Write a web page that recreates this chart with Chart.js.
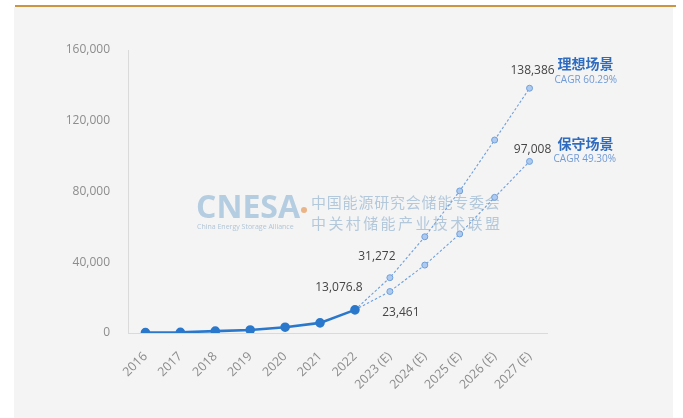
<!DOCTYPE html>
<html>
<head>
<meta charset="utf-8">
<script src="https://cdn.jsdelivr.net/npm/chart.js@4.4.1/dist/chart.umd.min.js"></script>
<style>
    html, body { margin: 0; padding: 0; background: #ffffff; }
    #wrap { position: relative; width: 683px; height: 418px; overflow: hidden; }
    #panel { position: absolute; left: 14px; top: 7px; width: 659px; height: 411px; background: #f4f4f4; }
    #topLine { position: absolute; left: 15px; top: 5px; width: 661px; height: 2px; background: #cc9540; }
    #chart { position: absolute; left: 0; top: 0; }
</style>
</head>
<body>
<div id="wrap">
    <div id="panel"></div>
    <div id="topLine"></div>
    <canvas id="chart" width="683" height="418"></canvas>
</div>
<script>
const years = ['2016', '2017', '2018', '2019', '2020', '2021', '2022',
    '2023 (E)', '2024 (E)', '2025 (E)', '2026 (E)', '2027 (E)'];
const actualValues = [243, 390, 1070, 1710, 3270, 5730, 13076.8, null, null, null, null, null];
const idealValues = [null, null, null, null, null, null, 13076.8, 31272, 54400, 80300, 109100, 138386];
const conservativeValues = [null, null, null, null, null, null, 13076.8, 23461, 38400, 56000, 76700, 97008];
const yTicks = [0, 40000, 80000, 120000, 160000];

const idealName = '理想场景';
const idealCagr = 'CAGR 60.29%';
const conservativeName = '保守场景';
const conservativeCagr = 'CAGR 49.30%';

const numFmt = (v) => v.toLocaleString('en-US', { maximumFractionDigits: 1 });
const narrow = '"Liberation Sans Narrow", "Open Sans", sans-serif';

// value labels and scenario names drawn next to points
const labelPlugin = {
    id: 'labelPlugin',
    afterDatasetsDraw(chart) {
        const c = chart.ctx;
        const x = chart.scales.x;
        const y = chart.scales.y;
        c.save();
        c.fillStyle = '#444444';
        c.font = '12px ' + narrow;
        c.textAlign = 'center';
        c.textBaseline = 'middle';

        const i22 = 6;
        c.fillText(numFmt(actualValues[i22]), x.getPixelForValue(i22) - 16, y.getPixelForValue(actualValues[i22]) - 22);
        c.fillText(numFmt(idealValues[7]), x.getPixelForValue(7) - 13, y.getPixelForValue(idealValues[7]) - 21);
        c.fillText(numFmt(conservativeValues[7]), x.getPixelForValue(7) + 11, y.getPixelForValue(conservativeValues[7]) + 21);

        const last = years.length - 1;
        const lx = x.getPixelForValue(last);
        const iy = y.getPixelForValue(idealValues[last]);
        const cy = y.getPixelForValue(conservativeValues[last]);
        c.fillText(numFmt(idealValues[last]), lx + 3, iy - 18);
        c.fillText(numFmt(conservativeValues[last]), lx + 3, cy - 12);

        c.textAlign = 'left';
        c.fillStyle = '#2f6cbf';
        c.font = 'bold 14px "Noto Sans CJK SC", sans-serif';
        c.fillText(idealName, lx + 28, iy - 25);
        c.fillText(conservativeName, lx + 28, cy - 18);
        c.fillStyle = '#6f9ad6';
        c.font = '10px ' + narrow;
        c.fillText(idealCagr, lx + 25, iy - 8);
        c.fillText(conservativeCagr, lx + 24, cy - 2);
        c.restore();
    }
};

// faint CNESA watermark behind the lines
const watermarkPlugin = {
    id: 'watermarkPlugin',
    beforeDatasetsDraw(chart) {
        const c = chart.ctx;
        c.save();
        c.globalAlpha = 0.8;
        c.fillStyle = '#a4c3dc';
        c.font = 'bold 32px "Open Sans", sans-serif';
        c.textBaseline = 'alphabetic';
        c.textAlign = 'left';
        c.fillText('CNESA', 196, 218);
        c.font = '7px "Open Sans", sans-serif';
        c.fillStyle = '#9fb9cf';
        c.fillText('China Energy Storage Alliance', 197, 229);
        c.fillStyle = '#e7a46a';
        c.beginPath();
        c.arc(304, 210, 3, 0, Math.PI * 2);
        c.fill();
        c.fillStyle = '#a3bdd4';
        c.font = '15px "Noto Sans CJK SC", sans-serif';
        const line1 = '中国能源研究会储能专委会';
        const line2 = '中关村储能产业技术联盟';
        for (let i = 0; i < line1.length; i++) c.fillText(line1[i], 311 + i * 15.8, 208);
        for (let i = 0; i < line2.length; i++) c.fillText(line2[i], 311 + i * 17.4, 229);
        c.restore();
    }
};

new Chart(document.getElementById('chart').getContext('2d'), {
    type: 'line',
    data: {
        labels: years,
        datasets: [
            {
                label: 'actual',
                data: actualValues,
                borderColor: '#2a78cc',
                borderWidth: 2.6,
                pointRadius: 3.5,
                pointBackgroundColor: '#2a78cc',
                pointBorderColor: '#2a78cc',
                fill: false
            },
            {
                label: idealName,
                data: idealValues,
                borderColor: '#6f9fdb',
                borderWidth: 1.1,
                borderDash: [2.5, 2],
                pointRadius: 3,
                pointBackgroundColor: '#aecbef',
                pointBorderColor: '#6f9fdb',
                pointBorderWidth: 1,
                fill: false
            },
            {
                label: conservativeName,
                data: conservativeValues,
                borderColor: '#6f9fdb',
                borderWidth: 1.1,
                borderDash: [2.5, 2],
                pointRadius: 3,
                pointBackgroundColor: '#aecbef',
                pointBorderColor: '#6f9fdb',
                pointBorderWidth: 1,
                fill: false
            }
        ]
    },
    options: {
        responsive: false,
        animation: false,
        layout: { padding: { top: 50, right: 136, left: 0, bottom: 0 } },
        plugins: {
            legend: { display: false },
            tooltip: { enabled: false }
        },
        scales: {
            x: {
                offset: true,
                grid: { display: false },
                border: { display: true, color: '#dadada', width: 1 },
                ticks: {
                    maxRotation: 45,
                    minRotation: 45,
                    padding: 8,
                    color: '#8c8c8c',
                    font: { family: '"Open Sans", sans-serif', size: 12.5 }
                },
                afterFit(scale) { scale.height = 85; }
            },
            y: {
                min: 0,
                max: 160000,
                grid: { display: false },
                border: { display: true, color: '#dadada', width: 1 },
                afterBuildTicks(scale) { scale.ticks = yTicks.map(v => ({ value: v })); },
                ticks: {
                    padding: 10,
                    color: '#8c8c8c',
                    font: { family: narrow, size: 12 },
                    callback: (v) => v.toLocaleString('en-US')
                },
                afterFit(scale) { scale.width = 128; }
            }
        }
    },
    plugins: [watermarkPlugin, labelPlugin]
});
</script>
</body>
</html>
